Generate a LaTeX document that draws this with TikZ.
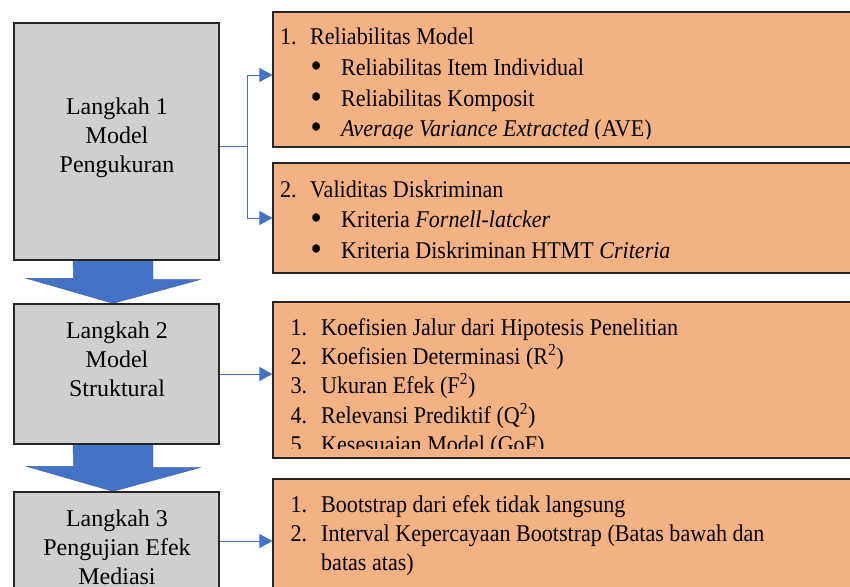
\documentclass[tikz,border=0pt]{standalone}
\usepackage{graphicx}
\usepackage{fontspec}
\setmainfont{Liberation Serif}
\newfontfamily\isifont{Liberation Serif}[FakeStretch=0.92]
\usetikzlibrary{positioning,arrows.meta,backgrounds}

\definecolor{abu}{HTML}{D0CECE}
\definecolor{oranye}{HTML}{F4B183}
\definecolor{biru}{HTML}{4472C4}

\newcommand{\butir}{\makebox[30.5pt][l]{\smash{\raisebox{-2pt}{\scalebox{1.45}{\textbullet}}}}}

\tikzset{
  langkah/.style={draw=black!85, line width=1.3pt, fill=abu, minimum width=205pt},
  kotak/.style={draw=black!85, line width=1.3pt, fill=oranye, minimum width=597pt},
  teks/.style={inner sep=0pt, font=\isifont\fontsize{24}{29}\selectfont, anchor=base west},
  judul/.style={inner sep=0pt, font=\fontsize{24}{29}\selectfont, anchor=base},
  panah/.style={draw=biru, line width=0.9pt, -{Triangle[length=13pt,width=14pt]}},
  blok/.style={fill=biru, draw=biru!85!black, line width=0.4pt}
}

\begin{document}
\begin{tikzpicture}[x=1pt, y=-1pt]
\clip (0,0) rectangle (850,586);

% langkah
\node[langkah, minimum height=237pt] (s1) at (116.5,141.5) {};
\node[langkah, minimum height=140pt] (s2) at (116.5,374) {};
\node[langkah, minimum height=98pt] (s3) at (116.5,541) {};

% kotak isi
\node[kotak, minimum height=135pt] (ra) at (571.5,79.5) {};
\node[kotak, minimum height=110pt] (rb) at (571.5,218) {};
\node[kotak, minimum height=156pt] (rc) at (571.5,380) {};
\node[kotak, minimum height=124pt] (rd) at (571.5,541) {};

% judul langkah
\node[judul] (j1a) at (117,114.5) {Langkah 1};
\node[judul] (j1b) at (117,143.5) {Model};
\node[judul] (j1c) at (117,172.5) {Pengukuran};
\node[judul] (j2a) at (117,338) {Langkah 2};
\node[judul] (j2b) at (117,367) {Model};
\node[judul] (j2c) at (117,396) {Struktural};
\node[judul] (j3a) at (117,526) {Langkah 3};
\node[judul] (j3b) at (117,555) {Pengujian Efek};
\node[judul] (j3c) at (117,584) {Mediasi};

% isi kotak
\begin{scope}
  \clip (273,12) rectangle (850,138.5);
  \node[teks] (a1) at (280,45) {\makebox[30pt][l]{1.}Reliabilitas Model};
  \node[teks] (a2) at (310.5,75.5) {\butir Reliabilitas Item Individual};
  \node[teks] (a3) at (310.5,106) {\butir Reliabilitas Komposit};
  \node[teks] (a4) at (310.5,136.5) {\butir\textit{Average Variance Extracted} (AVE)};
\end{scope}
\node[teks] (b1) at (280,197) {\makebox[30pt][l]{2.}Validitas Diskriminan};
\node[teks] (b2) at (310.5,227.5) {\butir Kriteria \textit{Fornell-latcker}};
\node[teks] (b3) at (310.5,258) {\butir Kriteria Diskriminan HTMT \textit{Criteria}};
\begin{scope}
  \clip (273,302) rectangle (850,448.5);
  \node[teks] (c1) at (290.5,335) {\makebox[30.5pt][l]{1.}Koefisien Jalur dari Hipotesis Penelitian};
  \node[teks] (c2) at (290.5,364.4) {\makebox[30.5pt][l]{2.}Koefisien Determinasi (R\textsuperscript{2})};
  \node[teks] (c3) at (290.5,393.8) {\makebox[30.5pt][l]{3.}Ukuran Efek (F\textsuperscript{2})};
  \node[teks] (c4) at (290.5,423.2) {\makebox[30.5pt][l]{4.}Relevansi Prediktif (Q\textsuperscript{2})};
  \node[teks] (c5) at (290.5,452.6) {\makebox[30.5pt][l]{5.}Kesesuaian Model (GoF)};
\end{scope}
\node[teks] (d1) at (290.5,512.5) {\makebox[30.5pt][l]{1.}Bootstrap dari efek tidak langsung};
\node[teks] (d2) at (290.5,541.5) {\makebox[30.5pt][l]{2.}Interval Kepercayaan Bootstrap (Batas bawah dan};
\node[teks] (d3) at (321,570.5) {batas atas)};

% penghubung
\coordinate (cabang) at (247,146);
\draw[panah] (s1.east |- cabang) -- (cabang) |- ([yshift=4.5pt]ra.west);
\draw[panah] (cabang) |- (rb.west);
\draw[panah] (s2.east) -- (s2.east -| rc.west);
\draw[panah] (s3.east) -- (s3.east -| rd.west);

\begin{scope}[on background layer]
  \fill[white] (0,0) rectangle (850,586);
  \path[blok] ([xshift=-43.5pt]s1.south) -- ([xshift=36.5pt]s1.south) -- ++(0,19) -- ++(47,0)
    -- ([xshift=-3.5pt]s2.north) -- ++(-86.5,-25) -- ++(47,0) -- cycle;
  \path[blok] ([xshift=-43.5pt]s2.south) -- ([xshift=36.5pt]s2.south) -- ++(0,23) -- ++(47,0)
    -- ([xshift=-3.5pt]s3.north) -- ++(-86.5,-25) -- ++(47,0) -- cycle;
\end{scope}
\end{tikzpicture}
\end{document}
